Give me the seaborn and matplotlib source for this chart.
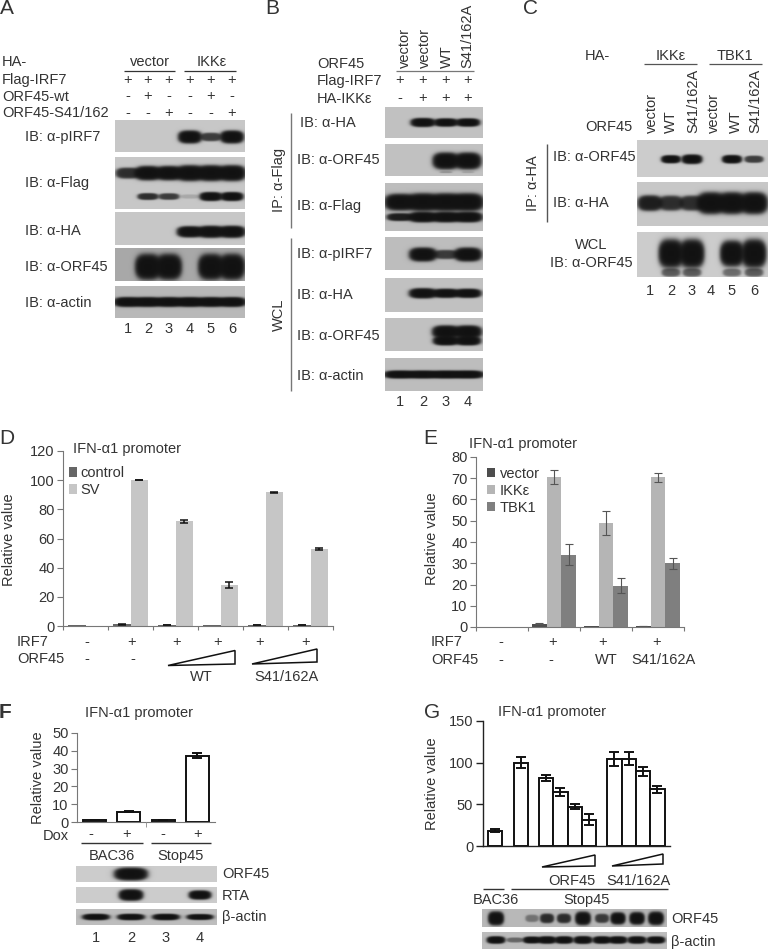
"""
plot.py - IFN-alpha1 promoter figure, blots and reporter bar charts
"""

import numpy as np
import pandas as pd
import matplotlib
matplotlib.use('Agg')
import matplotlib.pyplot as plt
import seaborn as sns
from matplotlib.patches import Polygon

sns.set_theme(style='white')
plt.rcParams['font.family'] = ['Liberation Sans', 'DejaVu Sans']
plt.rcParams['text.color'] = '#333333'
plt.rcParams['axes.labelcolor'] = '#333333'
plt.rcParams['xtick.color'] = '#333333'
plt.rcParams['ytick.color'] = '#333333'

W, H = 768, 950
FS = 10.5

# Panel D
d_groups = ['a', 'b', 'c', 'd', 'e', 'f']
d_control = [0.5, 1.2, 0.7, 0.4, 0.7, 0.7]
d_sv = [0.3, 100, 71.7, 28, 91.7, 53]
d_control_err = [0, 0.3, 0.2, 0, 0.2, 0.2]
d_sv_err = [0, 0.2, 1.2, 2.2, 0.3, 0.7]
d_yticks = [0, 20, 40, 60, 80, 100, 120]

# Panel E
e_groups = ['a', 'b', 'c', 'd']
e_vector = [0.1, 1.5, 0.3, 0.5]
e_ikk = [0.1, 70.5, 49, 70.5]
e_tbk = [0.1, 34, 19.5, 30]
e_vector_err = [0, 0.2, 0, 0.1]
e_ikk_err = [0, 3.3, 5.7, 2.2]
e_tbk_err = [0, 5, 3.6, 2.7]
e_yticks = [0, 10, 20, 30, 40, 50, 60, 70, 80]

# Panel F
f_groups = ['1', '2', '3', '4']
f_values = [1, 5.8, 1, 37.2]
f_err = [0.1, 0.1, 0.1, 1.3]
f_yticks = [0, 10, 20, 30, 40, 50]

# Panel G
g_slots = [0, 1.77, 3.54, 4.54, 5.54, 6.54, 8.31, 9.31, 10.31, 11.31]
g_values = [18.5, 100, 82, 64.5, 47, 31.5, 104.5, 105, 89.5, 68]
g_err = [1.5, 6.5, 3.5, 5, 3, 6.5, 8, 8, 5.5, 4]
g_yticks = [0, 50, 100, 150]

# Band strengths per lane (0 = nothing, 1 = full black)
a_pirf7 = [0, 0, 0, 1, 0.45, 1]
a_flag_up = [0.5, 0.85, 0.85, 1, 1, 1]
a_flag_low = [0, 0.5, 0.45, 0.1, 0.85, 0.85]
a_ha = [0, 0, 0, 0.8, 0.9, 0.9]
a_orf45 = [0, 1, 1, 0, 1, 1]
a_actin = [0.85, 0.85, 0.85, 0.85, 0.85, 0.85]

b_ha = [0, 0.85, 0.75, 0.75]
b_orf45 = [0, 0, 1, 1]
b_orf45_faint = [0, 0, 0.15, 0.1]
b_flag_up = [0.9, 1, 1, 1]
b_flag_low = [0.55, 0.95, 0.95, 0.95]
b_pirf7 = [0, 1, 0.45, 1]
b_wcl_ha = [0, 0.9, 0.75, 0.75]
b_wcl_orf45_up = [0, 0, 1, 1]
b_wcl_orf45_low = [0, 0, 0.9, 0.9]
b_actin = [0.85, 0.85, 0.85, 0.85]

c_orf45 = [0, 0.6, 0.8, 0, 0.65, 0.45]
c_ha = [0.55, 0.5, 0.5, 1, 1, 1]
c_wcl = [0, 1, 1, 0, 0.85, 1]
c_wcl_smear = [0, 0.35, 0.35, 0, 0.3, 0.35]

f_orf45 = [0, 1, 0, 0]
f_rta = [0, 0.95, 0, 0.65]
f_actin = [0.7, 0.7, 0.7, 0.6]

g_orf45 = [1, 0, 0.25, 0.5, 0.5, 0.95, 0.45, 0.8, 0.85, 0.95]
g_actin = [0.75, 0.3, 0.65, 0.75, 0.75, 0.8, 0.75, 0.75, 0.75, 0.7]

# Lane centres on the page
a_lanes = [128, 148, 169, 190, 211, 232]
b_lanes = [400, 423, 446, 468]
c_lanes = [650, 671, 692, 711, 732, 754]
f_lanes = [96, 131, 166, 200]
g_lanes = [496, 515, 532, 547, 564, 583, 602, 618, 637, 656]

fig = plt.figure(figsize=(W / 100, H / 100), dpi=100)

# page-coordinate layer for the labels, rules and blot images
page = fig.add_axes([0, 0, 1, 1], zorder=5)
page.set_xlim(0, W)
page.set_ylim(H, 0)
page.axis('off')
page.patch.set_alpha(0)


def axes_px(x0, y0, x1, y1):
    """Axes from page pixel corners (left, top, right, bottom)."""
    return fig.add_axes([x0 / W, 1 - y1 / H, (x1 - x0) / W, (y1 - y0) / H])


def txt(x, y, s, ha='left', size=FS, rotation=0, va='center', **kw):
    page.text(x, y, s, ha=ha, va=va, fontsize=size, rotation=rotation,
              rotation_mode='anchor' if rotation else 'default', **kw)


def rule(x0, y0, x1, y1, color='#333333', lw=0.9):
    page.plot([x0, x1], [y0, y1], color=color, lw=lw, solid_capstyle='butt')


def wedge(points):
    page.add_patch(Polygon(points, closed=True, fill=False, ec='#111111', lw=1.1))


def marks(y, xs, signs):
    for x, s in zip(xs, signs):
        txt(x, y, s, ha='center', size=FS)


def blot(box, lanes, rows, bg=0.76):
    """Grey film strip. rows = (levels, y fraction, half height, half width)."""
    x0, y0, x1, y1 = box
    xx, yy = np.meshgrid(np.arange(x0, x1, 0.5) + 0.25, np.arange(y0, y1, 0.5) + 0.25)
    clear = np.ones_like(xx)
    for levels, frac, hh, hw in rows:
        yc = y0 + frac * (y1 - y0)
        for xc, lev in zip(lanes, levels):
            if lev <= 0:
                continue
            h = hh * (0.35 + 0.65 * lev)
            w = hw * (0.75 + 0.25 * lev)
            r = (np.abs((xx - xc) / w) ** 3 + np.abs((yy - yc) / h) ** 2.5) ** (1 / 2.5)
            band = 0.5 * (1 - np.tanh((r - 1) / 0.22)) * min(1.0, 1.7 * lev)
            clear *= 1 - band
    shade = 0.07 + (bg - 0.07) * clear
    page.imshow(shade, extent=(x0, x1, y1, y0), cmap='gray', vmin=0, vmax=1,
                aspect='auto', interpolation='bilinear', zorder=1)


def style_axes(ax, yticks, color, lw, ticklen=4):
    sns.despine(ax=ax)
    for side in ['left', 'bottom']:
        ax.spines[side].set_color(color)
        ax.spines[side].set_linewidth(lw)
    ax.set_xlabel('')
    ax.set_ylabel('')
    ax.set_yticks(yticks)
    ax.tick_params(axis='y', labelsize=FS, length=ticklen, width=lw, color=color, pad=2, left=True)
    ax.patch.set_alpha(0)


def group_bars(box, groups, names, series, errs, colors, yticks, width, err_color, err_lw):
    """Grouped bars with seaborn, error bars put on the drawn bars."""
    ax = axes_px(*box)
    df = pd.DataFrame({
        'group': list(groups) * len(names),
        'series': np.repeat(names, len(groups)),
        'value': np.concatenate(series),
    })
    sns.barplot(data=df, x='group', y='value', hue='series', palette=colors, width=width,
                gap=0, errorbar=None, saturation=1, ax=ax, linewidth=0)
    for cont, vals, err in zip(ax.containers, series, errs):
        xs = [p.get_x() + p.get_width() / 2 for p in cont]
        keep = [i for i, e in enumerate(err) if e > 0]
        ax.errorbar([xs[i] for i in keep], [vals[i] for i in keep], yerr=[err[i] for i in keep],
                    fmt='none', ecolor=err_color, elinewidth=err_lw, capsize=2.6, capthick=err_lw)
    ax.set_ylim(yticks[0], yticks[-1])
    ax.set_xlim(-0.5, len(groups) - 0.5)
    ax.set_xticks(np.arange(len(groups) + 1) - 0.5, labels=[])
    ax.tick_params(axis='x', length=3, width=0.8, color='#777777', bottom=True)
    style_axes(ax, yticks, '#777777', 0.8)
    return ax


def open_bars(ax, x, values, err, yticks, width, native=False):
    df = pd.DataFrame({'x': x, 'value': values})
    sns.barplot(data=df, x='x', y='value', color='white', edgecolor='#111111', linewidth=1.4,
                width=width, errorbar=None, saturation=1, native_scale=native, ax=ax)
    bars = ax.containers[0]
    xs = [p.get_x() + p.get_width() / 2 for p in bars]
    ax.errorbar(xs, values, yerr=err, fmt='none', ecolor='#111111', elinewidth=1.4,
                capsize=3.6, capthick=1.4)
    ax.set_ylim(yticks[0], yticks[-1])


# ---------- Panel A ----------
txt(0, 9, 'A', size=15)
txt(2, 62, 'HA-')
txt(2, 80, 'Flag-IRF7')
txt(2, 97, 'ORF45-wt')
txt(2, 113, 'ORF45-S41/162')
txt(150, 62, 'vector', ha='center')
txt(212, 62, 'IKKε', ha='center')
rule(124, 70.5, 175, 70.5)
rule(184, 70.5, 236, 70.5)
marks(80, a_lanes, ['+'] * 6)
marks(96, a_lanes, ['-', '+', '-', '-', '+', '-'])
marks(113, a_lanes, ['-', '-', '+', '-', '-', '+'])
blot((115, 120, 245, 152), a_lanes, [(a_pirf7, 0.53, 6.5, 12)], bg=0.78)
blot((115, 157, 245, 209), a_lanes, [(a_flag_up, 0.31, 8, 14), (a_flag_low, 0.76, 5, 12)], bg=0.78)
blot((115, 212, 245, 245), a_lanes, [(a_ha, 0.6, 6.5, 14)], bg=0.78)
blot((115, 248, 245, 281), a_lanes, [(a_orf45, 0.57, 13, 13)], bg=0.66)
blot((115, 286, 245, 318), a_lanes, [(a_actin, 0.5, 5.5, 15)], bg=0.72)
for y, s in zip([137, 183, 231, 267, 303], ['pIRF7', 'Flag', 'HA', 'ORF45', 'actin']):
    txt(25, y, 'IB: α-' + s)
for x, s in zip(a_lanes, '123456'):
    txt(x, 329, s, ha='center')

# ---------- Panel B ----------
txt(265, 9, 'B', size=15)
txt(317, 64, 'ORF45')
txt(317, 81, 'Flag-IRF7')
txt(317, 99, 'HA-IKKε')
for x, s in zip([405, 425, 447, 467], ['vector', 'vector', 'WT', 'S41/162A']):
    txt(x, 68, s, rotation=90)
rule(396, 71, 474, 71, color='#777777')
marks(80, b_lanes, ['+'] * 4)
marks(98, b_lanes, ['-', '+', '+', '+'])
blot((385, 107, 483, 138), b_lanes, [(b_ha, 0.5, 5, 13)], bg=0.76)
blot((385, 144, 483, 176), b_lanes, [(b_orf45, 0.53, 8.5, 13.5), (b_orf45_faint, 0.88, 2, 8)], bg=0.76)
blot((385, 183, 483, 231), b_lanes, [(b_flag_up, 0.4, 9, 16), (b_flag_low, 0.71, 5.5, 15)], bg=0.74)
blot((385, 237, 483, 270), b_lanes, [(b_pirf7, 0.53, 7, 14)], bg=0.74)
blot((385, 278, 483, 312), b_lanes, [(b_wcl_ha, 0.45, 5.5, 14.5)], bg=0.76)
blot((385, 318, 483, 351), b_lanes, [(b_wcl_orf45_up, 0.42, 6.5, 14), (b_wcl_orf45_low, 0.69, 5, 13.5)], bg=0.76)
blot((385, 358, 483, 391), b_lanes, [(b_actin, 0.5, 4.5, 17)], bg=0.74)
for x, y, s in [(300, 123, 'HA'), (297, 160, 'ORF45'), (297, 206, 'Flag'), (297, 254, 'pIRF7'),
                (297, 295, 'HA'), (297, 336, 'ORF45'), (297, 376, 'actin')]:
    txt(x, y, 'IB: α-' + s)
txt(279, 180, 'IP: α-Flag', ha='center', rotation=90, va='center')
txt(279, 315, 'WCL', ha='center', rotation=90, va='center')
rule(291, 113, 291, 228, color='#777777', lw=1)
rule(291, 238, 291, 391, color='#777777', lw=1)
for x, s in zip(b_lanes, '1234'):
    txt(x, 402, s, ha='center')

# ---------- Panel C ----------
txt(523, 9, 'C', size=15)
txt(585, 56, 'HA-')
txt(671, 56, 'IKKε', ha='center')
txt(735, 56, 'TBK1', ha='center')
rule(644, 64, 697, 64, color='#555555')
rule(709, 64, 762, 64, color='#555555')
txt(585, 127, 'ORF45')
for x, s in zip([652, 671, 693, 714, 736, 755], ['vector', 'WT', 'S41/162A', 'vector', 'WT', 'S41/162A']):
    txt(x, 133, s, rotation=90)
blot((637, 140, 768, 177), c_lanes, [(c_orf45, 0.52, 5.5, 11)], bg=0.8)
blot((637, 182, 768, 226), c_lanes, [(c_ha, 0.48, 11, 14)], bg=0.78)
blot((637, 232, 768, 277), c_lanes, [(c_wcl, 0.48, 14.5, 12.5), (c_wcl_smear, 0.9, 7, 11)], bg=0.8)
txt(553, 157, 'IB: α-ORF45')
txt(553, 203, 'IB: α-HA')
txt(591, 245, 'WCL', ha='center')
txt(550, 263, 'IB: α-ORF45')
txt(533, 183, 'IP: α-HA', ha='center', rotation=90, va='center')
rule(547, 144, 547, 222, color='#555555', lw=1)
for x, s in zip([650, 671, 692, 711, 732, 754], '123456'):
    txt(x, 291, s, ha='center')

# ---------- Panel D ----------
txt(-1, 438, 'D', size=15)
ax_d = group_bars((63, 451, 333, 626), d_groups, ['control', 'SV'], [d_control, d_sv],
                  [d_control_err, d_sv_err], ['#666666', '#c6c6c6'], d_yticks, 0.78, '#111111', 1.1)
sns.move_legend(ax_d, loc='upper left', bbox_to_anchor=(-0.005, 0.955), frameon=False, title=None,
                fontsize=FS, handlelength=0.55, handleheight=0.6, handletextpad=0.2,
                labelspacing=0.2, borderpad=0, borderaxespad=0.5)
txt(73, 449, 'IFN-α1 promoter')
txt(9, 540, 'Relative value', ha='center', rotation=90, va='center')
txt(17, 642, 'IRF7')
txt(17, 659, 'ORF45')
marks(642, [87, 132, 177, 218, 260, 306], ['-', '+', '+', '+', '+', '+'])
marks(659, [87, 133], ['-', '-'])
wedge([(168, 665.5), (235, 664), (235, 650.5)])
wedge([(252, 664), (317, 662), (317, 649)])
txt(201, 677, 'WT', ha='center')
txt(286, 677, 'S41/162A', ha='center')

# ---------- Panel E ----------
txt(423, 438, 'E', size=15)
ax_e = group_bars((476, 457, 684, 627), e_groups, ['vector', 'IKKε', 'TBK1'], [e_vector, e_ikk, e_tbk],
                  [e_vector_err, e_ikk_err, e_tbk_err], ['#4d4d4d', '#b5b5b5', '#7f7f7f'],
                  e_yticks, 0.85, '#555555', 0.8)
sns.move_legend(ax_e, loc='upper left', bbox_to_anchor=(0.02, 0.985), frameon=False, title=None,
                fontsize=FS, handlelength=0.55, handleheight=0.6, handletextpad=0.3,
                labelspacing=0.2, borderpad=0, borderaxespad=0.5)
txt(469, 444, 'IFN-α1 promoter')
txt(432, 539, 'Relative value', ha='center', rotation=90, va='center')
txt(431, 642, 'IRF7')
txt(431, 660, 'ORF45')
marks(642, [501, 553, 603, 657], ['-', '+', '+', '+'])
marks(660, [501, 551, 606, 663], ['-', '-', 'WT', 'S41/162A'])

# ---------- Panel F ----------
txt(-1, 713, 'F', size=15, fontweight='bold')
ax_f = axes_px(77, 733, 215, 822)
open_bars(ax_f, f_groups, f_values, f_err, f_yticks, 0.67)
ax_f.set_xticks([])
style_axes(ax_f, f_yticks, '#777777', 0.8)
txt(85, 713, 'IFN-α1 promoter')
txt(38, 778, 'Relative value', ha='center', rotation=90, va='center')
txt(43, 836, 'Dox')
marks(834, [91, 127, 163, 198], ['-', '+', '-', '+'])
rule(146, 822, 146, 827, color='#999999', lw=0.7)
rule(81, 843, 143, 843, lw=1)
rule(151, 843, 211, 843, lw=1)
txt(112, 856, 'BAC36', ha='center')
txt(181, 856, 'Stop45', ha='center')
blot((76, 866, 217, 882), f_lanes, [(f_orf45, 0.5, 6.5, 17)], bg=0.8)
blot((76, 887, 217, 903), f_lanes, [(f_rta, 0.5, 6, 12.5)], bg=0.8)
blot((76, 909, 217, 925), f_lanes, [(f_actin, 0.5, 4, 15)], bg=0.74)
txt(222, 874, 'ORF45')
txt(222, 896, 'RTA')
txt(222, 917, 'β-actin')
for x, s in zip(f_lanes, '1234'):
    txt(x, 938, s, ha='center')

# ---------- Panel G ----------
txt(424, 713, 'G', size=15)
ax_g = axes_px(483, 721, 670, 846)
open_bars(ax_g, g_slots, g_values, g_err, g_yticks, 1.0, native=True)
ax_g.set_xlim(-0.86, 12.19)
ax_g.set_xticks([])
style_axes(ax_g, g_yticks, '#222222', 1.0, ticklen=5)
txt(498, 712, 'IFN-α1 promoter')
txt(432, 784, 'Relative value', ha='center', rotation=90, va='center')
wedge([(542, 867), (595, 866), (595, 855)])
wedge([(612, 866), (663, 864), (663, 854)])
txt(572, 881, 'ORF45', ha='center')
txt(638, 881, 'S41/162A', ha='center')
rule(483, 889, 504, 889, lw=1)
rule(511, 889, 668, 889, lw=1)
txt(496, 900, 'BAC36', ha='center')
txt(587, 900, 'Stop45', ha='center')
blot((482, 909, 667, 927), g_lanes, [(g_orf45, 0.52, 7, 8)], bg=0.72)
blot((482, 932, 667, 949), g_lanes, [(g_actin, 0.47, 4.5, 10)], bg=0.74)
txt(671, 919, 'ORF45')
txt(671, 942, 'β-actin')

page.set_xlim(0, W)
page.set_ylim(H, 0)

plt.savefig('out.png', dpi=100)
plt.close()
